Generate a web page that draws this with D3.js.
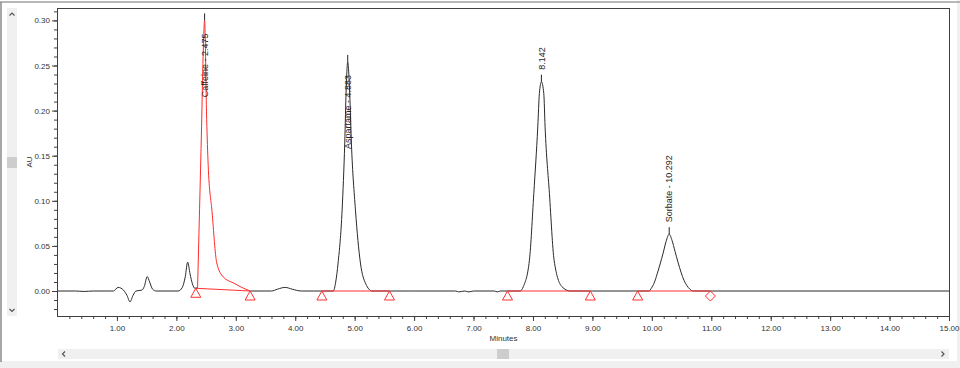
<!DOCTYPE html>
<html>
<head>
<meta charset="utf-8">
<script src="https://cdn.jsdelivr.net/npm/d3@7"></script>
<style>
  html, body { margin: 0; padding: 0; background: #fff; }
  svg { display: block; font-family: 'Liberation Sans', Arial, sans-serif; }
</style>
</head>
<body>
<svg id="chart" width="960" height="368"></svg>
<script>
// 色谱数据: [分钟, AU]
var trace = [
  [0.00, 0.000], [0.30, 0.000], [0.45, -0.0005], [0.60, 0.000], [0.80, 0.000],
  [0.94, 0.000], [1.02, 0.004], [1.11, 0.001], [1.17, -0.005], [1.22, -0.012],
  [1.27, -0.005], [1.32, 0.000], [1.42, 0.001], [1.46, 0.005], [1.51, 0.016],
  [1.55, 0.010], [1.60, 0.002], [1.66, 0.000], [2.03, 0.000], [2.10, 0.004],
  [2.15, 0.016], [2.19, 0.032], [2.23, 0.019], [2.27, 0.008], [2.31, 0.003],
  // Caffeine
  [2.357, 0.004], [2.39, 0.090], [2.424, 0.182], [2.45, 0.260], [2.475, 0.300],
  [2.51, 0.190], [2.535, 0.140], [2.60, 0.088], [2.68, 0.031], [2.79, 0.0155],
  [2.958, 0.009], [3.10, 0.004], [3.241, 0.000],
  [3.60, 0.000], [3.70, 0.002], [3.83, 0.004], [3.95, 0.002], [4.10, 0.000],
  [4.30, 0.000], [4.60, 0.000],
  // Aspartame
  [4.640, 0.000], [4.681, 0.010], [4.721, 0.031], [4.789, 0.090], [4.833, 0.164],
  [4.858, 0.225], [4.883, 0.254], [4.913, 0.225], [4.945, 0.164], [5.013, 0.090],
  [5.097, 0.031], [5.186, 0.008], [5.294, 0.000],
  [5.60, 0.000], [6.00, 0.000], [6.70, 0.000], [6.75, -0.001], [6.85, 0.000],
  [6.92, -0.001], [7.00, 0.000], [7.35, 0.000], [7.40, -0.001], [7.45, 0.000],
  // 8.142
  [7.783, 0.000], [7.839, 0.005], [7.940, 0.034], [8.014, 0.108], [8.081, 0.182],
  [8.108, 0.219], [8.142, 0.232], [8.182, 0.219], [8.204, 0.182], [8.277, 0.108],
  [8.356, 0.034], [8.485, 0.005], [8.625, 0.000],
  [9.00, 0.000],
  // Sorbate
  [9.955, 0.000], [9.99, 0.003], [10.04, 0.009], [10.09, 0.019], [10.14, 0.030],
  [10.19, 0.042], [10.24, 0.055], [10.292, 0.063], [10.34, 0.056], [10.39, 0.044],
  [10.44, 0.032], [10.49, 0.021], [10.54, 0.012], [10.59, 0.006], [10.64, 0.002],
  [10.701, 0.000],
  [15.00, 0.000]
]

// 红色显示的峰范围 (分钟)
var redFrom = 2.357
var redTo = 3.241

// 峰标注
var peakNames = ['Caffeine', 'Aspartame', '', 'Sorbate']
var peakRT = [2.475, 4.883, 8.142, 10.292]
var peakAU = [0.300, 0.254, 0.232, 0.063]

// 积分基线 起点/终点
var baseStartT = [2.327, 4.448, 7.572, 9.761]
var baseStartAU = [0.003, 0, 0, 0]
var baseEndT = [3.241, 5.586, 8.965, 10.985]
var baseEndAU = [0, 0, 0, 0]

// 刻度
var xTicks = d3.range(1, 16)
var xMinor = d3.range(1, 75).map((i) => i / 5)
var yTicks = [0, 0.05, 0.10, 0.15, 0.20, 0.25, 0.30]
var yMinor = d3.range(-2, 32).map((i) => i / 100)

var width = 960
var height = 368
var plotL = 57.5, plotR = 949.5, plotT = 8.5, plotB = 316.5

var svg = d3.select('#chart')

// 窗口背景
svg.append('rect').attr('width', width).attr('height', height).attr('fill', '#fff')
svg.append('rect').attr('x', 0).attr('y', 361).attr('width', width).attr('height', 7).attr('fill', '#f0f0f0')
svg.append('rect').attr('x', 957).attr('y', 0).attr('width', 3).attr('height', height).attr('fill', '#f0f0f0')
svg.append('line').attr('x1', 0).attr('x2', width).attr('y1', 2).attr('y2', 2).attr('stroke', '#a0a0a0').attr('stroke-width', 1.5)
svg.append('line').attr('x1', 1).attr('x2', 1).attr('y1', 2).attr('y2', 362).attr('stroke', '#8a8a8a').attr('stroke-width', 1.5)

// 滚动条
svg.append('rect').attr('x', 7).attr('y', 8).attr('width', 10).attr('height', 308).attr('fill', '#f0f0f0')
svg.append('rect').attr('x', 7).attr('y', 157).attr('width', 10).attr('height', 11).attr('fill', '#cdcdcd')
svg.append('rect').attr('x', 58).attr('y', 349).attr('width', 891).attr('height', 10).attr('fill', '#f0f0f0')
svg.append('rect').attr('x', 497).attr('y', 349).attr('width', 12).attr('height', 10).attr('fill', '#cdcdcd')
var chevrons = ['M9.5,15.5L12,13L14.5,15.5', 'M9.5,309L12,311.5L14.5,309', 'M65,351.5L62.5,354L65,356.5', 'M941.5,351.5L944,354L941.5,356.5']
svg.selectAll('path.chev').data(chevrons).enter().append('path')
  .attr('class', 'chev').attr('d', (d) => d)
  .attr('fill', 'none').attr('stroke', '#555').attr('stroke-width', 1.2)

var x = d3.scaleLinear().domain([0, 15]).range([57.5, 949])
var y = d3.scaleLinear().domain([0, 0.3]).range([291, 20.4])

// 坐标轴
var yMinorAxis = svg.append('g').attr('transform', `translate(${plotL - 0.5},0)`)
  .call(d3.axisLeft(y).tickValues(yMinor).tickSize(3).tickSizeOuter(0).tickFormat(''))
var yAxis = svg.append('g').attr('transform', `translate(${plotL - 0.5},0)`)
  .call(d3.axisLeft(y).tickValues(yTicks).tickSize(5).tickSizeOuter(0).tickPadding(2).tickFormat(d3.format('.2f')))
var xMinorAxis = svg.append('g').attr('transform', `translate(0,${plotB - 0.5})`)
  .call(d3.axisBottom(x).tickValues(xMinor).tickSize(3).tickSizeOuter(0).tickFormat(''))
var xAxis = svg.append('g').attr('transform', `translate(0,${plotB - 0.5})`)
  .call(d3.axisBottom(x).tickValues(xTicks).tickSize(5).tickSizeOuter(0).tickPadding(4).tickFormat(d3.format('.2f')))

;[yMinorAxis, yAxis, xMinorAxis, xAxis].forEach(function (g) {
  g.select('.domain').remove()
  g.selectAll('line').attr('stroke', '#404040')
  g.selectAll('text').attr('fill', '#333').attr('font-size', 8).attr('font-family', null)
})

// 图框
svg.append('rect')
  .attr('x', plotL).attr('y', plotT)
  .attr('width', plotR - plotL).attr('height', plotB - plotT)
  .attr('fill', 'none').attr('stroke', '#404040')

svg.append('text').attr('transform', 'translate(29.5,162) rotate(-90)')
  .attr('text-anchor', 'middle').attr('dy', '0.35em')
  .attr('font-size', 8).attr('fill', '#333').text('AU')
svg.append('text').attr('x', (plotL + plotR) / 2).attr('y', 341)
  .attr('text-anchor', 'middle').attr('font-size', 8).attr('fill', '#333').text('Minutes')

var rootG = svg.append('g')

var line = d3.line().x((d) => x(d[0])).y((d) => y(d[1])).curve(d3.curveMonotoneX)

// 黑色谱线
rootG.append('path')
  .datum(trace)
  .attr('d', line.defined((d) => d[0] <= redFrom || d[0] >= redTo))
  .attr('fill', 'none').attr('stroke', '#2a2a2a').attr('stroke-width', 1)

// 红色峰 (Caffeine)
rootG.append('path')
  .datum(trace.filter((d) => d[0] >= redFrom && d[0] <= redTo))
  .attr('d', line.defined(() => true))
  .attr('fill', 'none').attr('stroke', '#ff2a2a').attr('stroke-width', 1)

// 积分基线和标记
var red = '#ff3030'
baseStartT.forEach(function (t0, i) {
  var x0 = x(t0), y0 = y(baseStartAU[i])
  var x1 = x(baseEndT[i]), y1 = y(baseEndAU[i])
  rootG.append('line').attr('x1', x0).attr('y1', y0).attr('x2', x1).attr('y2', y1)
    .attr('stroke', red).attr('stroke-width', 1)
  rootG.append('path')
    .attr('d', `M${x0},${y0}L${x0 - 5},${y0 + 9}L${x0 + 5},${y0 + 9}Z`)
    .attr('fill', 'none').attr('stroke', red)
  if (i === baseStartT.length - 1) {
    rootG.append('path')
      .attr('d', `M${x1},${y1}L${x1 + 5},${y1 + 5}L${x1},${y1 + 10}L${x1 - 5},${y1 + 5}Z`)
      .attr('fill', 'none').attr('stroke', red)
  } else {
    rootG.append('path')
      .attr('d', `M${x1},${y1}L${x1 - 5},${y1 + 9}L${x1 + 5},${y1 + 9}Z`)
      .attr('fill', 'none').attr('stroke', red)
  }
})

// 峰标注
peakRT.forEach(function (rt, i) {
  var px = x(rt), py = y(peakAU[i])
  var label = peakNames[i] ? peakNames[i] + ' - ' + rt.toFixed(3) : rt.toFixed(3)
  rootG.append('line').attr('x1', px).attr('x2', px).attr('y1', py).attr('y2', py - 7)
    .attr('stroke', '#222')
  var text = rootG.append('text')
    .attr('dy', '0.35em').attr('font-size', 9).attr('fill', '#222')
    .text(label)
  var len = text.node().getComputedTextLength()
  if (py - 12 - len < plotT) {
    // 上方放不下, 放到峰内
    text.attr('text-anchor', 'end').attr('transform', `translate(${px},${py + 13}) rotate(-90)`)
  } else {
    text.attr('text-anchor', 'start').attr('transform', `translate(${px},${py - 12}) rotate(-90)`)
  }
})
</script>
</body>
</html>
